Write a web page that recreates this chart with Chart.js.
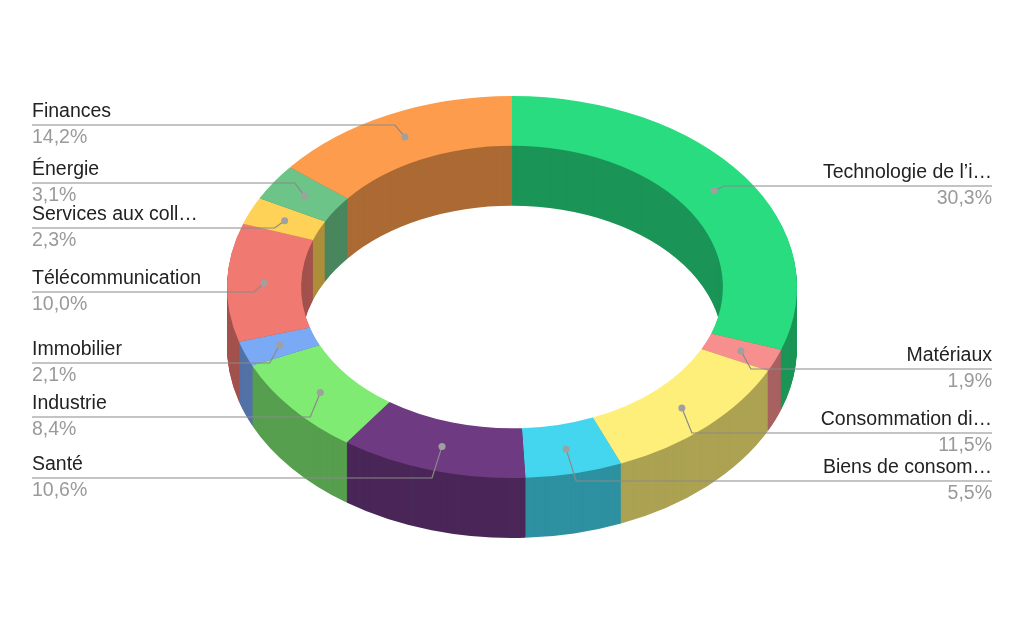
<!DOCTYPE html>
<html><head><meta charset="utf-8">
<script src="https://cdn.jsdelivr.net/npm/chart.js@4"></script>
<style>html,body{margin:0;background:#fff}#w{width:1024px;height:633px}</style>
</head><body><div id="w"><canvas id="c"></canvas></div>
<script>
const categories = ["Technologie de l’i…","Matériaux","Consommation di…","Biens de consom…","Santé","Industrie","Immobilier","Télécommunication","Services aux coll…","Énergie","Finances"];
const values = [30.3,1.9,11.5,5.5,10.6,8.4,2.1,10.0,2.3,3.1,14.2];
const colors = ["#29dc80","#f78f8e","#fdef79","#44d6ee","#6e3a82","#7feb73","#7aa9f6","#f07a72","#fed257","#6cc489","#fe9c4d"];
const labelPos = [["r",171],["r",354],["r",418],["r",466],["l",463],["l",402],["l",348],["l",277],["l",213],["l",168],["l",110]];
const CX=512, CY=287, RX=285, RY=191, DEPTH=60;

function darken(hex,f){const n=parseInt(hex.slice(1),16);const r=(n>>16)*f|0,g=((n>>8)&255)*f|0,b=(n&255)*f|0;return `rgb(${r},${g},${b})`;}
function setT(ctx,meta,dy){const a=meta.data[0];const R=a.outerRadius;ctx.translate(CX,CY+dy);ctx.scale(RX/R,RY/R);ctx.translate(-a.x,-a.y);}

const plugin3d={id:'p3d',
 beforeDatasetsDraw(chart){const ctx=chart.ctx,meta=chart.getDatasetMeta(0);
  for(let d=DEPTH;d>=1;d--){ctx.save();setT(ctx,meta,d);
   meta.data.forEach((arc,i)=>{const o=arc.options.backgroundColor;arc.options.backgroundColor=darken(colors[i],0.68);arc.draw(ctx);arc.options.backgroundColor=o;});
   ctx.restore();}
  ctx.save();setT(ctx,meta,0);},
 afterDatasetsDraw(chart){const ctx=chart.ctx;ctx.restore();
  const meta=chart.getDatasetMeta(0);
  ctx.font='19.5px "Liberation Sans", Arial, sans-serif';ctx.textBaseline='top';
  meta.data.forEach((arc,i)=>{const mid=(arc.startAngle+arc.endAngle)/2;const k=0.87;
   const dx=CX+RX*k*Math.cos(mid), dy=CY+RY*k*Math.sin(mid);
   const [side,y]=labelPos[i];const ly=y+15;
   ctx.strokeStyle='#8a8a8a';ctx.lineWidth=1.2;ctx.beginPath();
   if(side==='l'){ctx.moveTo(32,ly);ctx.lineTo(dx-10,ly);ctx.lineTo(dx,dy);}
   else{ctx.moveTo(992,ly);ctx.lineTo(dx+10,ly);ctx.lineTo(dx,dy);}
   ctx.stroke();
   ctx.fillStyle='#a0a0a0';ctx.beginPath();ctx.arc(dx,dy,3.5,0,Math.PI*2);ctx.fill();
   ctx.textAlign=side==='l'?'left':'right';const tx=side==='l'?32:992;
   ctx.fillStyle='#222';ctx.fillText(categories[i],tx,y-8);
   ctx.fillStyle='#9a9a9a';ctx.fillText(values[i].toFixed(1).replace('.',',')+'%',tx,y+18);
  });}
};
new Chart(document.getElementById('c'),{type:'doughnut',
 data:{labels:categories,datasets:[{data:values,backgroundColor:colors,borderWidth:0,hoverOffset:0}]},
 options:{responsive:true,maintainAspectRatio:false,animation:false,cutout:'74%',
  events:[],plugins:{legend:{display:false},tooltip:{enabled:false}}},
 plugins:[plugin3d]});
</script></body></html>
